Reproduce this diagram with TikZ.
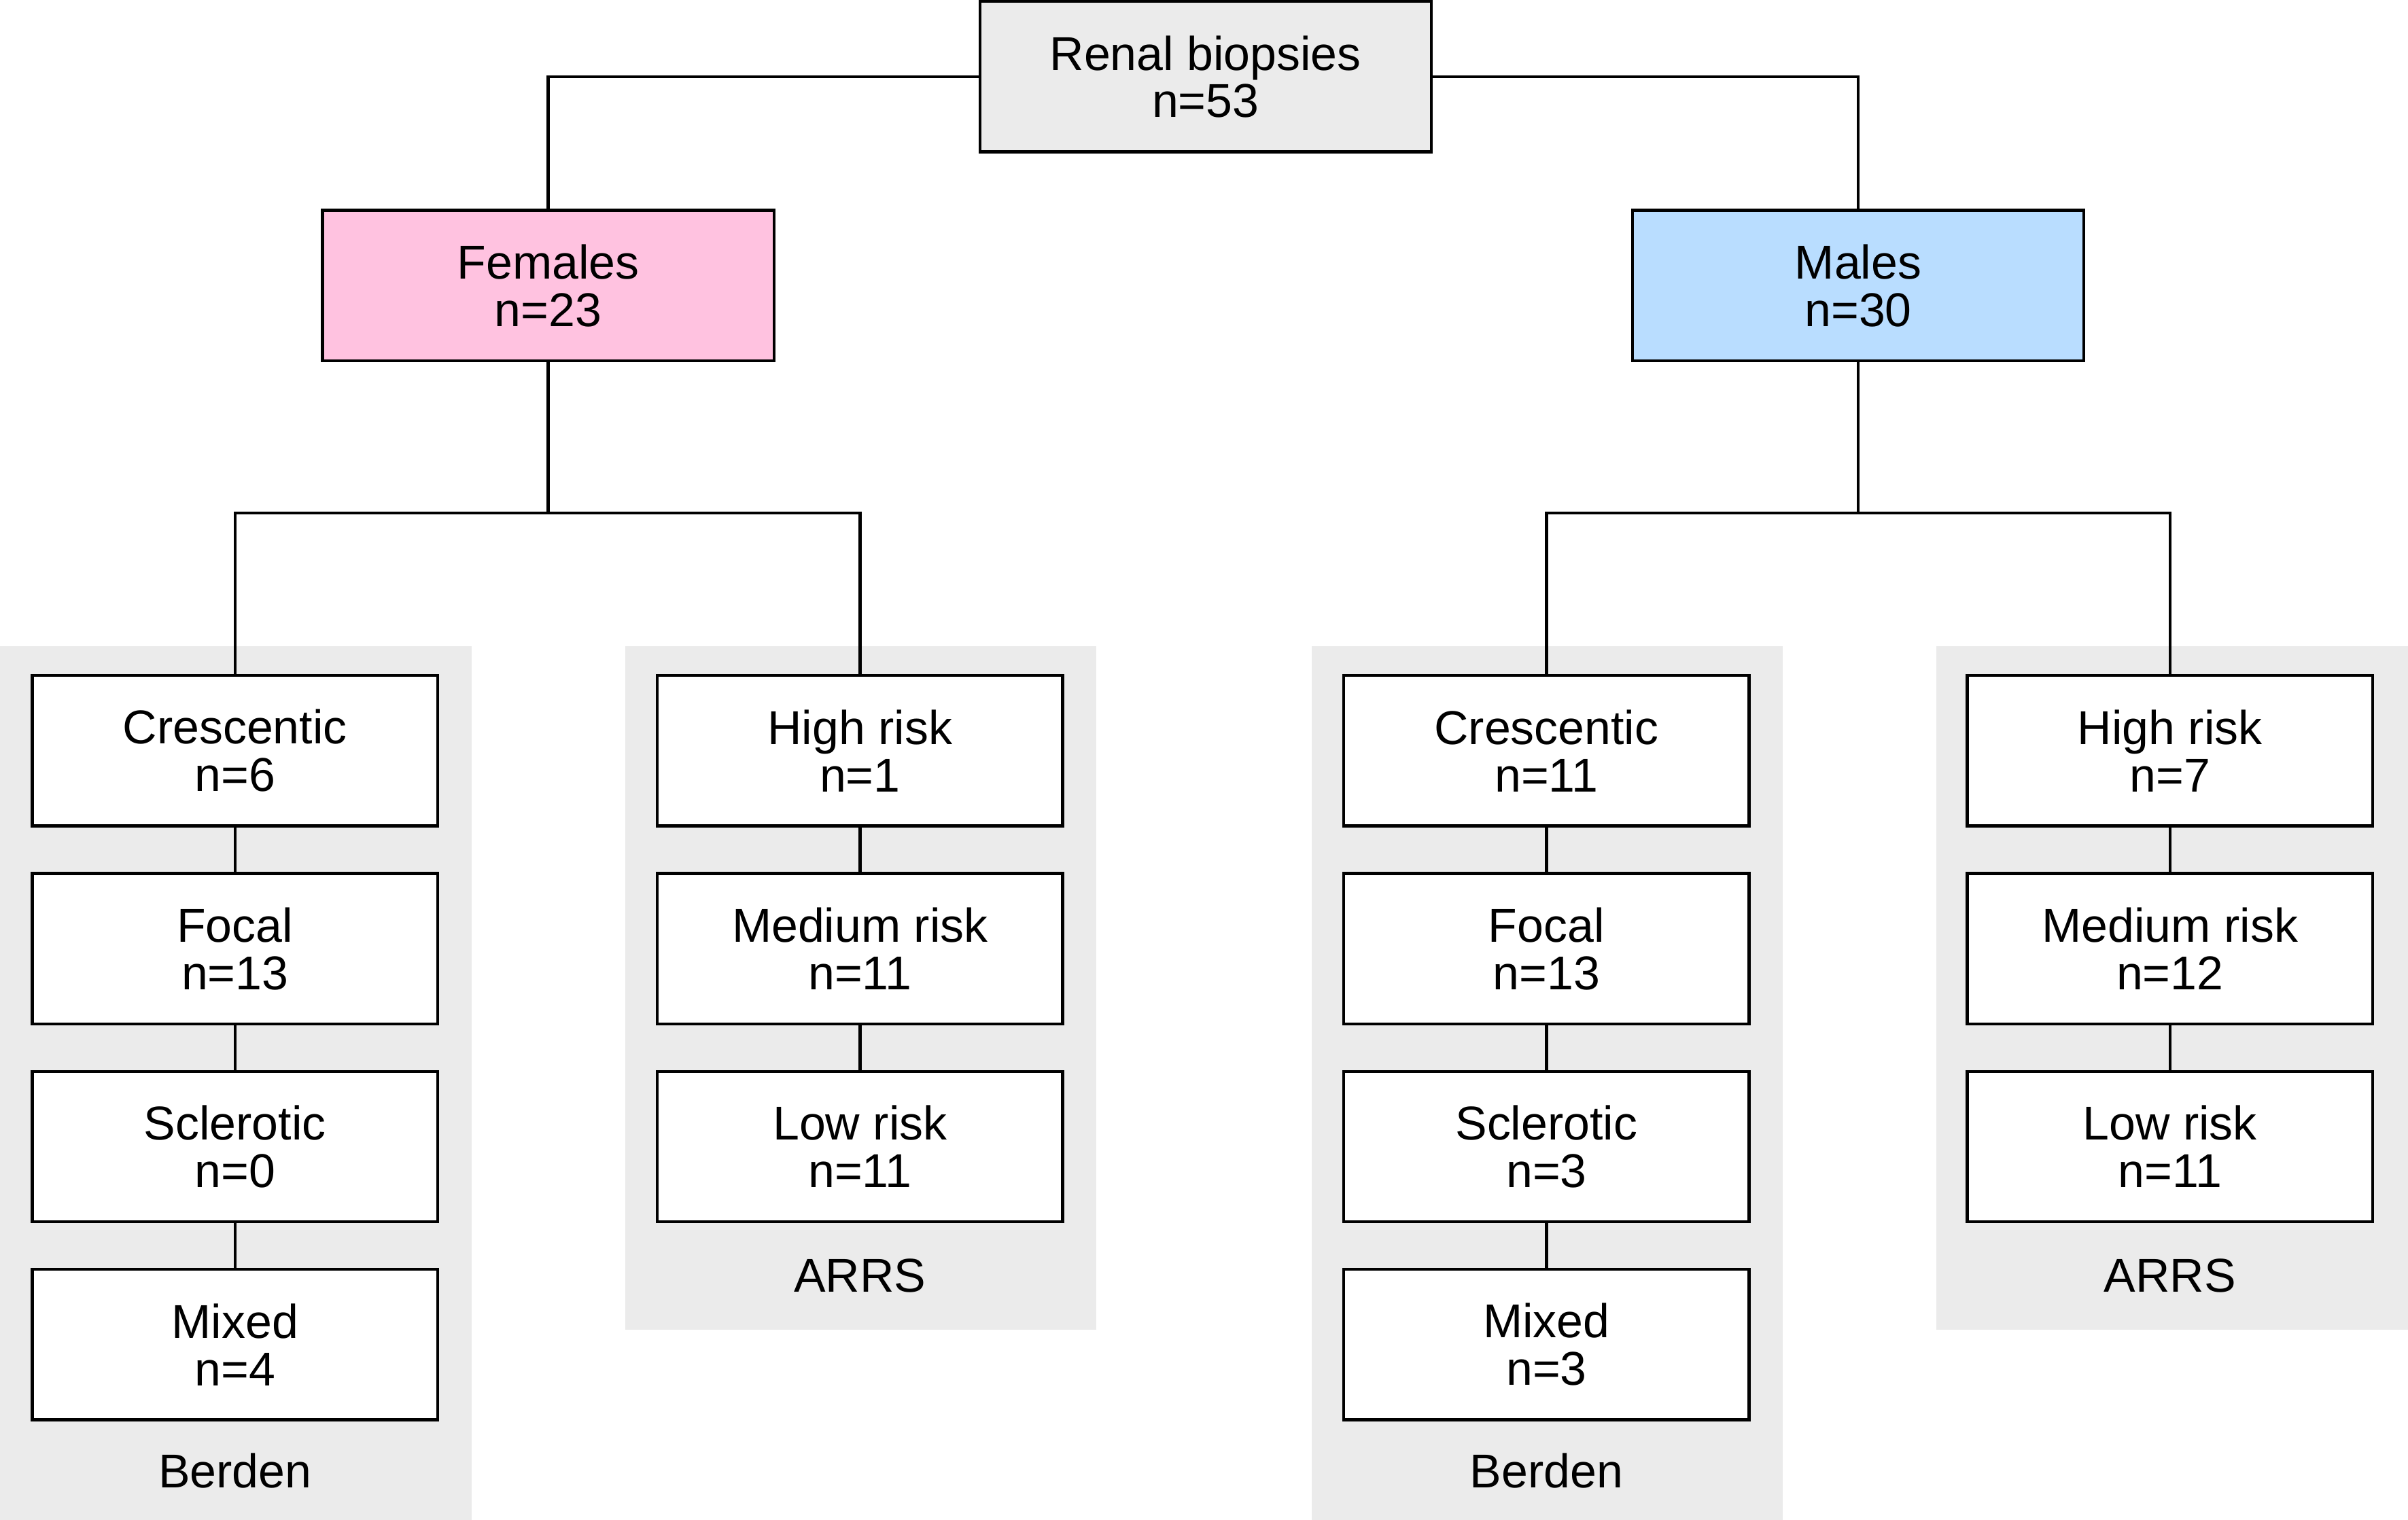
\documentclass[tikz,border=0pt]{standalone}
\usepackage{fontspec}
\setmainfont{Liberation Sans}
\usetikzlibrary{positioning}
\definecolor{panelgray}{HTML}{EBEBEB}
\definecolor{femalepink}{HTML}{FFC2E0}
\definecolor{maleblue}{HTML}{B9DDFF}
\begin{document}
\begin{tikzpicture}[x=0.02cm, y=-0.02cm,
	node distance=0.58cm,
	every node/.style = {align=center, font=\fontsize{17.6}{17.6}\selectfont},
	topbox/.style = {draw, line width=1.1pt, minimum width=5.88cm, minimum height=1.96cm, inner sep=0pt},
	classbox/.style = {draw, fill=white, line width=1.1pt, minimum width=5.28cm, minimum height=1.96cm, inner sep=0pt},
	panel/.style = {fill=panelgray},
	link/.style = {line width=1.1pt}]
	
	\useasboundingbox (0,0) rectangle (1568,990);
	
	% grey panels
	\fill[panel] (0,421) rectangle (307,990);
	\fill[panel] (407,421) rectangle (714,866);
	\fill[panel] (854,421) rectangle (1161,990);
	\fill[panel] (1261,421) rectangle (1568,866);
	
	\node[topbox, fill=panelgray] (root) at (785,50) {Renal biopsies\\n=53};
	\node[topbox, fill=femalepink] (fem) at (357,186) {Females\\n=23};
	\node[topbox, fill=maleblue] (mal) at (1210,186) {Males\\n=30};
	
	% females
	\node[classbox] (fb1) at (153,489) {Crescentic\\n=6};
	\node[classbox, below=of fb1] (fb2) {Focal\\n=13};
	\node[classbox, below=of fb2] (fb3) {Sclerotic\\n=0};
	\node[classbox, below=of fb3] (fb4) {Mixed\\n=4};
	\node (fbl) at (153,958) {Berden};
	
	\node[classbox] (fa1) at (560,489) {High risk\\n=1};
	\node[classbox, below=of fa1] (fa2) {Medium risk\\n=11};
	\node[classbox, below=of fa2] (fa3) {Low risk\\n=11};
	\node (fal) at (560,831) {ARRS};
	
	% males
	\node[classbox] (mb1) at (1007,489) {Crescentic\\n=11};
	\node[classbox, below=of mb1] (mb2) {Focal\\n=13};
	\node[classbox, below=of mb2] (mb3) {Sclerotic\\n=3};
	\node[classbox, below=of mb3] (mb4) {Mixed\\n=3};
	\node (mbl) at (1007,958) {Berden};
	
	\node[classbox] (ma1) at (1413,489) {High risk\\n=7};
	\node[classbox, below=of ma1] (ma2) {Medium risk\\n=12};
	\node[classbox, below=of ma2] (ma3) {Low risk\\n=11};
	\node (mal2) at (1413,831) {ARRS};
	
	% connectors
	\coordinate (fsplit) at (357,334);
	\coordinate (msplit) at (1210,334);
	\draw[link] (root.west) -| (fem.north);
	\draw[link] (root.east) -| (mal.north);
	\draw[link] (fem.south) -- (fsplit);
	\draw[link] (fb1.north) |- (fsplit) -| (fa1.north);
	\draw[link] (mal.south) -- (msplit);
	\draw[link] (mb1.north) |- (msplit) -| (ma1.north);
	\draw[link] (fb1) -- (fb2) -- (fb3) -- (fb4);
	\draw[link] (fa1) -- (fa2) -- (fa3);
	\draw[link] (mb1) -- (mb2) -- (mb3) -- (mb4);
	\draw[link] (ma1) -- (ma2) -- (ma3);
\end{tikzpicture}
\end{document}
